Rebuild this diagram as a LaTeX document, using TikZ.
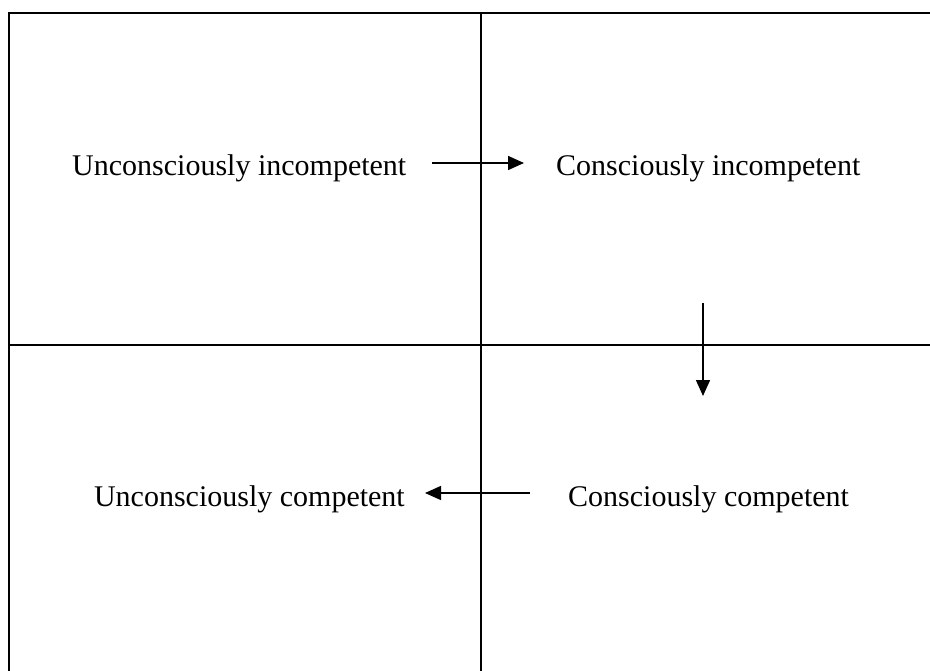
\documentclass[tikz,border=0pt]{standalone}
\usepackage{fontspec}
\setmainfont{Liberation Serif}
\usetikzlibrary{arrows.meta}
\begin{document}
\begin{tikzpicture}[x=1pt,y=-1pt,
  gridline/.style={line width=2pt,black},
  flow/.style={line width=1.5pt,-{Triangle[length=16pt,width=14pt]}},
  label/.style={font=\fontsize{30}{34}\selectfont,inner sep=0pt,anchor=base west}]
\useasboundingbox (0,0) rectangle (930,671);
% frame and dividers
\draw[gridline] (8.5,671) -- (8.5,13) -- (930,13);
\draw[gridline] (481,13) -- (481,671);
\draw[gridline] (8.5,345) -- (930,345);
% labels
\node[label] (ui) at (72,176) {Unconsciously incompetent};
\node[label] (ci) at (556,176) {Consciously incompetent};
\node[label,anchor=base east] (uc) at (405,506) {Unconsciously competent};
\node[label] (cc) at (568,506) {Consciously competent};
% arrow end points
\coordinate (a1s) at (432,163);
\coordinate (a1e) at (524,163);
\coordinate (a2s) at (703,303);
\coordinate (a2e) at (703,396);
\coordinate (a3s) at (530,493);
\coordinate (a3e) at (425,493);
\draw[flow] (a1s) -- (a1e);
\draw[flow] (a2s) -- (a2e);
\draw[flow] (a3s) -- (a3e);
\end{tikzpicture}
\end{document}
